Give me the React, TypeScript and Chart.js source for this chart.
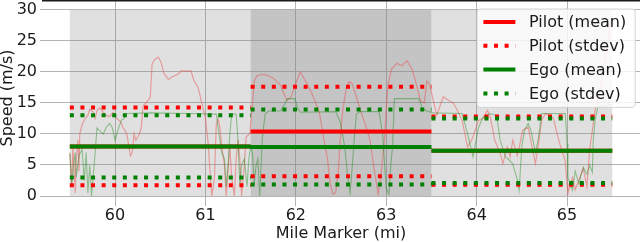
import React, { useEffect, useRef } from 'react';
import { Chart, registerables } from 'chart.js';

Chart.register(...registerables);

// ---------- data ----------
const regionStart = [59.5, 61.5, 63.5];
const regionEnd = [61.5, 63.5, 65.5];
const regionLow = 0;
const regionHigh = 30;

const pilotMean = [8.0, 10.4, 7.3];
const pilotStd = [6.25, 7.2, 5.5];
const egoMean = [8.0, 7.9, 7.3];
const egoStd = [5.0, 6.05, 5.2];

const xTicks = [60, 61, 62, 63, 64, 65];
const yTicks = [0, 5, 10, 15, 20, 25, 30];

const pilotMile = [
  59.5, 59.52, 59.535, 59.56, 59.57, 59.59, 59.6, 59.61, 59.635, 59.67,
  59.7, 59.72, 59.76, 59.78, 59.8, 59.83, 59.87, 59.9, 59.94, 59.98,
  60.02, 60.06, 60.09, 60.13, 60.17, 60.19, 60.21, 60.23, 60.27, 60.29,
  60.31, 60.34, 60.37, 60.39, 60.41, 60.44, 60.48, 60.51, 60.54, 60.59,
  60.63, 60.69, 60.74, 60.8, 60.84, 60.87, 60.92, 60.96, 61.0, 61.03,
  61.05, 61.07, 61.1, 61.12, 61.14, 61.16, 61.18, 61.21, 61.23, 61.25,
  61.27, 61.29, 61.32, 61.34, 61.36, 61.38, 61.4, 61.43, 61.45, 61.47,
  61.49, 61.52, 61.54, 61.57, 61.63, 61.68, 61.75, 61.83, 61.87, 61.9,
  61.95, 61.99, 62.05, 62.1, 62.16, 62.21, 62.26, 62.3, 62.35, 62.38,
  62.41, 62.44, 62.47, 62.49, 62.52, 62.56, 62.59, 62.62, 62.67, 62.71,
  62.77, 62.82, 62.87, 62.91, 62.94, 62.98, 63.0, 63.02, 63.06, 63.12,
  63.17, 63.23, 63.29, 63.34, 63.38, 63.42, 63.45, 63.48, 63.52, 63.56,
  63.63, 63.68, 63.74, 63.78, 63.84, 63.87, 63.9, 63.96, 64.02, 64.07,
  64.12, 64.15, 64.2, 64.26, 64.29, 64.34, 64.37, 64.4, 64.45, 64.48,
  64.51, 64.57, 64.62, 64.65, 64.68, 64.72, 64.76, 64.81, 64.85, 64.89,
  64.92, 64.98, 65.0, 65.01, 65.06, 65.09, 65.13, 65.18, 65.22, 65.25,
  65.28, 65.31, 65.34, 65.39, 65.43, 65.48, 65.5,
];
const pilotSpeed = [
  7, 2, 8, 0.5, 6, 9, 4, 10, 11.5, 12.5,
  13, 14, 13.5, 12.5, 13.8, 14.2, 13.5, 13, 12.8, 13.5,
  12.5, 12, 11, 10, 6.5, 7, 10, 9, 10, 11,
  14.5, 15, 15.5, 16, 21.3, 22, 22.4, 21.5, 19.8, 18.8,
  19.2, 19.6, 20.2, 20.1, 20.2, 18.7, 17.4, 15, 12.5, 8.5,
  4, 0, 3, 11.5, 12.5, 11, 8, 5, 0, 4,
  8, 3, 0, 6, 9, 6, 0, 5, 9.5, 9.8,
  10, 15, 18.5, 19.4, 19.6, 19.5, 19.0, 17.9, 16.5, 15.4,
  16, 17.8, 20.0, 18.7, 17.1, 15.4, 13.5, 10, 6, 2,
  0.3, 0.5, 4, 9, 14, 17.5, 18.4, 18.2, 16, 14,
  11.5, 9, 4, 0.3, 3, 9, 14, 18, 20.5, 21.4,
  21, 21.8, 20.3, 17.6, 15.3, 15, 18.5, 18, 15.4, 13,
  16, 15.5, 15, 14, 12.2, 10, 7.9, 9.5, 12.2, 12.5,
  13.8, 12.8, 9, 6.9, 5.2, 7.9, 6.3, 9, 6.5, 8.5,
  10.6, 11.1, 7.4, 5.2, 8, 12.2, 13.3, 13, 12.5, 10,
  8.4, 5.7, 2, 0.4, 3, 1, 2.5, 4.5, 1.5, 7.4,
  10.6, 13.8, 15.4, 19, 23, 28, 29,
];

const egoMile = [
  59.5, 59.52, 59.54, 59.56, 59.57, 59.6, 59.635, 59.66, 59.68, 59.7,
  59.72, 59.74, 59.78, 59.8, 59.83, 59.87, 59.9, 59.94, 59.97, 60.0,
  60.02, 60.04, 60.07, 60.1, 60.13, 60.4, 60.8, 61.12, 61.15, 61.18,
  61.21, 61.23, 61.25, 61.27, 61.29, 61.34, 61.36, 61.38, 61.4, 61.43,
  61.46, 61.48, 61.5, 61.52, 61.54, 61.56, 61.58, 61.6, 61.63, 61.66,
  61.7, 61.83, 61.88, 61.91, 61.99, 62.02, 62.05, 62.44, 62.49, 62.54,
  62.57, 62.6, 62.62, 62.65, 62.67, 62.71, 62.92, 62.96, 63.0, 63.03,
  63.05, 63.07, 63.09, 63.36, 63.4, 63.45, 63.52, 63.84, 63.9, 63.96,
  64.02, 64.07, 64.15, 64.22, 64.26, 64.32, 64.36, 64.4, 64.45, 64.47,
  64.5, 64.53, 64.57, 64.6, 64.65, 64.68, 64.72, 64.98, 65.0, 65.01,
  65.06, 65.09, 65.13, 65.18, 65.22, 65.25, 65.28, 65.29, 65.31, 65.34,
  65.4, 65.5,
];
const egoSpeed = [
  6.8, 1.6, 5, 7, 3, 6.5, 7.5, 2.5, 7, 0.5,
  5, 0, 7, 11, 10.5, 10, 11, 11.7, 11, 9,
  10, 11, 12.2, 12.5, 13.3, 13.4, 13.3, 13.2, 10, 7,
  6, 1.5, 5, 10, 13.2, 13.2, 9, 1.8, 5, 6,
  1.5, 6, 8, 6.9, 2, 5, 6, 0, 9.5, 13.2,
  13.7, 13.7, 14.9, 15.7, 15.7, 14.2, 13.5, 13.6, 12, 8,
  3.6, 0.5, 4, 10, 13.2, 13.6, 13.6, 10, 1.2, 0.3,
  5, 8, 15.7, 15.7, 14.2, 13.7, 13.4, 13.3, 10, 6.3,
  11, 12.7, 13.3, 13, 9, 6.3, 5.8, 5.2, 2.6, 0.9,
  8, 10.6, 11.7, 10.6, 7, 9, 13.3, 13.3, 8.4, 3,
  0.9, 4, 2, 4.6, 3.5, 5, 3.8, 9, 12.2, 14.3,
  14.5, 14.8,
];

const legendLabels = ['Pilot (mean)', 'Pilot (stdev)', 'Ego (mean)', 'Ego (stdev)'];

// ---------- styles ----------
const X_MIN = 59.192;
const X_MAX = 65.807;
const Y_MIN = 0;
const Y_MAX = 31.6;
const FONT = 'DejaVu Sans';
const TEXT = '#1a1a1a';
const GRID = '#b4b4b4';
const RED = '#ff0000';
const GREEN = '#008000';
const SHADES = ['rgba(128,128,128,0.245)', 'rgba(128,128,128,0.465)', 'rgba(128,128,128,0.245)'];
const DOTS = [4, 6.6];

// ---------- helpers ----------
function meanSegments(mean: number[]) {
  const out: any[] = [];
  mean.forEach((m, i) => {
    out.push({ x: regionStart[i], y: m }, { x: regionEnd[i], y: m }, { x: regionEnd[i], y: null });
  });
  return out;
}
function stdSegments(mean: number[], std: number[]) {
  const out: any[] = [];
  mean.forEach((m, i) => {
    out.push({ x: regionStart[i], y: m + std[i] }, { x: regionEnd[i], y: m + std[i] }, { x: regionEnd[i], y: null });
    out.push({ x: regionStart[i], y: m - std[i] }, { x: regionEnd[i], y: m - std[i] }, { x: regionEnd[i], y: null });
  });
  return out;
}
function trace(miles: number[], speeds: number[]) {
  return miles.map((x, i) => ({ x, y: speeds[i] }));
}

const shadePlugin = {
  id: 'shade',
  beforeDatasetsDraw(chart: any) {
    const { ctx, scales } = chart;
    const xs = scales.x;
    const ys = scales.y;
    ctx.save();
    regionStart.forEach((s, i) => {
      const x0 = xs.getPixelForValue(s);
      const x1 = xs.getPixelForValue(regionEnd[i]);
      const y0 = ys.getPixelForValue(regionHigh);
      const y1 = ys.getPixelForValue(regionLow);
      ctx.fillStyle = SHADES[i];
      ctx.fillRect(x0, y0, x1 - x0, y1 - y0);
    });
    ctx.restore();
  },
};

const topLinePlugin = {
  id: 'topLine',
  afterDatasetsDraw(chart: any) {
    const { ctx, chartArea } = chart;
    ctx.save();
    ctx.strokeStyle = '#1a1a1a';
    ctx.lineWidth = 1.6;
    ctx.beginPath();
    ctx.moveTo(chartArea.left, chartArea.top + 0.8);
    ctx.lineTo(chartArea.right, chartArea.top + 0.8);
    ctx.stroke();
    ctx.restore();
  },
};

const legendPlugin = {
  id: 'boxLegend',
  afterDraw(chart: any) {
    const { ctx, chartArea } = chart;
    const items = chart.data.datasets.filter((d: any) => d.inLegend);
    ctx.save();
    ctx.font = `16px "${FONT}"`;
    let maxW = 0;
    items.forEach((d: any) => {
      maxW = Math.max(maxW, ctx.measureText(d.label).width);
    });
    const pad = 6.4;
    const handle = 32;
    const gap = 13.6;
    const rowH = 23.8;
    const w = pad + handle + gap + maxW + 9;
    const h = rowH * items.length + 3.2;
    const x = chartArea.right - 163;
    const y = chartArea.top + 9;
    const r = 3;
    ctx.beginPath();
    ctx.moveTo(x + r, y);
    ctx.lineTo(x + w - r, y);
    ctx.arcTo(x + w, y, x + w, y + r, r);
    ctx.lineTo(x + w, y + h - r);
    ctx.arcTo(x + w, y + h, x + w - r, y + h, r);
    ctx.lineTo(x + r, y + h);
    ctx.arcTo(x, y + h, x, y + h - r, r);
    ctx.lineTo(x, y + r);
    ctx.arcTo(x, y, x + r, y, r);
    ctx.closePath();
    ctx.fillStyle = 'rgba(255,255,255,0.82)';
    ctx.fill();
    ctx.strokeStyle = 'rgba(204,204,204,0.8)';
    ctx.lineWidth = 1;
    ctx.stroke();
    items.forEach((d: any, i: number) => {
      const cy = y + 13 + i * rowH;
      ctx.beginPath();
      ctx.strokeStyle = d.borderColor;
      ctx.lineWidth = d.borderWidth;
      ctx.lineCap = 'butt';
      ctx.setLineDash(d.borderDash || []);
      ctx.moveTo(x + pad, cy);
      ctx.lineTo(x + pad + handle, cy);
      ctx.stroke();
      ctx.setLineDash([]);
      ctx.fillStyle = TEXT;
      ctx.textAlign = 'left';
      ctx.textBaseline = 'middle';
      ctx.fillText(d.label, x + pad + handle + gap, cy + 1);
    });
    ctx.restore();
  },
};

export default function App() {
  const ref = useRef<HTMLCanvasElement>(null);
  useEffect(() => {
    document.body.style.margin = '0';
    const canvas = ref.current!;
    Chart.defaults.font.family = FONT;
    const chart = new Chart(canvas, {
      type: 'line',
      data: {
        datasets: [
          {
            label: 'Pilot trace',
            data: trace(pilotMile, pilotSpeed),
            borderColor: 'rgba(235,70,70,0.45)',
            borderWidth: 1.2,
            pointRadius: 0,
            order: 10,
          },
          {
            label: 'Ego trace',
            data: trace(egoMile, egoSpeed),
            borderColor: 'rgba(0,128,0,0.38)',
            borderWidth: 1.1,
            pointRadius: 0,
            order: 9,
          },
          {
            label: legendLabels[0],
            inLegend: true,
            data: meanSegments(pilotMean),
            borderColor: RED,
            borderWidth: 4,
            borderCapStyle: 'butt',
            pointRadius: 0,
            order: 4,
          },
          {
            label: legendLabels[1],
            inLegend: true,
            data: stdSegments(pilotMean, pilotStd),
            borderColor: RED,
            borderWidth: 4,
            borderDash: DOTS,
            borderCapStyle: 'butt',
            pointRadius: 0,
            order: 3,
          },
          {
            label: legendLabels[2],
            inLegend: true,
            data: meanSegments(egoMean),
            borderColor: GREEN,
            borderWidth: 4,
            borderCapStyle: 'butt',
            pointRadius: 0,
            order: 2,
          },
          {
            label: legendLabels[3],
            inLegend: true,
            data: stdSegments(egoMean, egoStd),
            borderColor: GREEN,
            borderWidth: 4,
            borderDash: DOTS,
            borderCapStyle: 'butt',
            pointRadius: 0,
            order: 1,
          },
        ] as any,
      },
      options: {
        responsive: false,
        animation: false,
        devicePixelRatio: 1,
        layout: { padding: 0 },
        elements: { line: { tension: 0 }, point: { radius: 0 } },
        plugins: { legend: { display: false }, tooltip: { enabled: false } },
        scales: {
          x: {
            type: 'linear',
            min: X_MIN,
            max: X_MAX,
            afterBuildTicks: (s: any) => {
              s.ticks = xTicks.map((v) => ({ value: v }));
            },
            afterFit: (s: any) => {
              s.height = 46;
              s.paddingLeft = 0;
              s.paddingRight = 0;
            },
            grid: { color: GRID, lineWidth: 1, tickLength: 10 },
            border: { display: false },
            ticks: { color: TEXT, font: { size: 16 }, padding: 0, maxRotation: 0, autoSkip: false },
            title: { display: true, text: 'Mile Marker (mi)', color: TEXT, font: { size: 16 }, padding: { top: 0, bottom: -1 } },
          },
          y: {
            type: 'linear',
            min: Y_MIN,
            max: Y_MAX,
            afterBuildTicks: (s: any) => {
              s.ticks = yTicks.map((v) => ({ value: v }));
            },
            afterFit: (s: any) => {
              s.width = 42;
              s.paddingTop = 0;
              s.paddingBottom = 0;
            },
            grid: { color: GRID, lineWidth: 1, tickLength: 2 },
            border: { display: false },
            ticks: { color: TEXT, font: { size: 16 }, padding: 3, autoSkip: false },
            title: { display: true, text: 'Speed (m/s)', color: TEXT, font: { size: 16 }, padding: { top: -2, bottom: 0 } },
          },
        },
      } as any,
      plugins: [shadePlugin, topLinePlugin, legendPlugin],
    });
    return () => chart.destroy();
  }, []);
  return <canvas ref={ref} width={640} height={242} style={{ display: 'block' }} />;
}
